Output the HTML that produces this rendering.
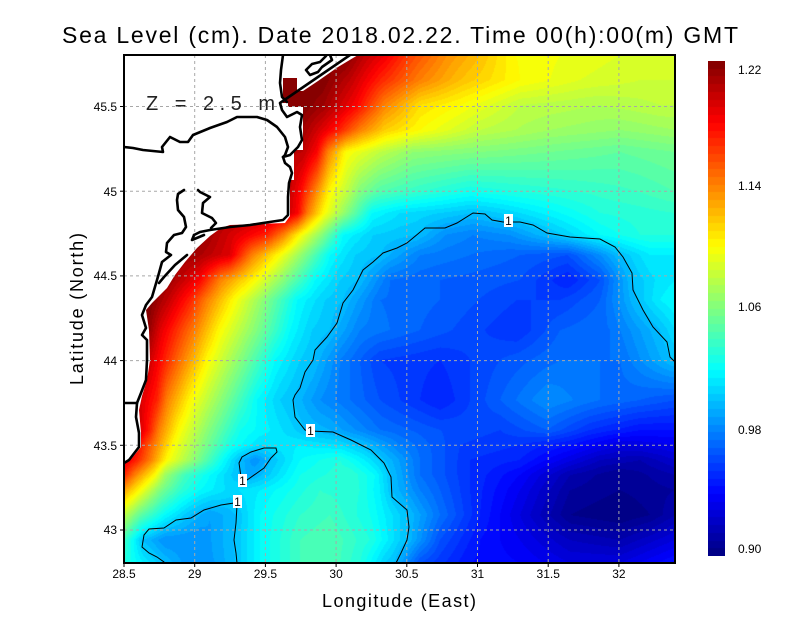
<!DOCTYPE html>
<html><head><meta charset="utf-8">
<style>
html,body{margin:0;padding:0;background:#fff;}
body{width:800px;height:618px;position:relative;overflow:hidden;}
#c{position:absolute;left:124px;top:55px;}
#cb{position:absolute;left:708px;top:61px;}
svg{position:absolute;left:0;top:0;}
text{font-family:"Liberation Sans",sans-serif;}
</style></head>
<body>
<canvas id="c" width="551" height="508"></canvas>
<canvas id="cb" width="17" height="495"></canvas>
<svg width="800" height="618" viewBox="0 0 800 618" xmlns="http://www.w3.org/2000/svg">
<defs><clipPath id="pc"><rect x="124" y="55" width="551" height="508"/></clipPath></defs>
<g clip-path="url(#pc)">
<path fill="#fff" d="M124,55 L358,55 L338,67 L318,81 L303,91 L297,91 L297,78 L283,78 L283,103 L288,103 L288,107 L303,107 L303,150 L294,150 L294,180 L290,180 L290,216 L285,223 L230,225 L221,228 L210,236 L197,248 L185,262 L175,275 L167,288 L152,303 L146,310 L149,330 L150,360 L147,380 L142,396 L139,410 L141,433 L141,447 L132,458 L124,464 Z"/>
<g stroke="#a8a8a8" stroke-width="1" stroke-dasharray="3,3" fill="none">
<line x1="194.7" y1="55" x2="194.7" y2="563"/>
<line x1="265.4" y1="55" x2="265.4" y2="563"/>
<line x1="336.1" y1="55" x2="336.1" y2="563"/>
<line x1="406.8" y1="55" x2="406.8" y2="563"/>
<line x1="477.5" y1="55" x2="477.5" y2="563"/>
<line x1="548.2" y1="55" x2="548.2" y2="563"/>
<line x1="618.9" y1="55" x2="618.9" y2="563"/>
<line x1="124" y1="106.5" x2="675" y2="106.5"/>
<line x1="124" y1="191.2" x2="675" y2="191.2"/>
<line x1="124" y1="275.9" x2="675" y2="275.9"/>
<line x1="124" y1="360.6" x2="675" y2="360.6"/>
<line x1="124" y1="445.3" x2="675" y2="445.3"/>
<line x1="124" y1="530" x2="675" y2="530"/>
</g>
<g stroke="#000" stroke-width="1" fill="none">
<path d="M675,362 L670,357 L667,342 L653,327 L643,310 L633,290 L632,273 L623,257 L615,247 L600,239 L570,237 L547,233 L533,225 L520,222 L503,222 L492,220 L485,214 L473,213 L457,223 L445,228 L425,228 L407,243 L397,248 L383,253 L373,262 L363,270 L353,290 L343,303 L337,323 L327,337 L315,350 L313,360 L305,372 L300,388 L295,395 L293,400 L295,417 L305,430 L310,431 L333,432 L351,440 L371,450 L384,463 L391,477 L392,497 L407,510 L409,527 L407,540 L401,553 L396,563"/>
<path d="M241,477 L239,463 L242,457 L251,452 L264,448 L276,448 L277,452 L271,458 L264,468 L257,473 L247,480 Z"/>
<path d="M237,502 L234,503 L221,505 L204,510 L191,518 L176,520 L164,528 L149,529 L144,535 L142,547 L149,553 L157,557 L164,562 L166,565"/>
<path d="M237,505 L236,523 L234,540 L236,553 L237,563"/>
</g>
<g>
<rect x="504" y="214" width="9" height="13" fill="#fff"/>
<rect x="306" y="424" width="9" height="13" fill="#fff"/>
<rect x="238" y="474" width="9" height="13" fill="#fff"/>
<rect x="233" y="495" width="9" height="13" fill="#fff"/>
<g font-size="12" text-anchor="middle" fill="#000">
<text x="508.5" y="225">1</text>
<text x="310.5" y="435">1</text>
<text x="242.5" y="485">1</text>
<text x="237.5" y="506">1</text>
</g>
</g>
<g stroke="#000" stroke-width="2.6" fill="none" stroke-linejoin="round" stroke-linecap="round">
<path d="M350,55 L280,103 L282,110 L287,117 L297,112 L302,115 L300,127 L302,140 L298,147 L290,155 L283,157 L285,163 L290,167 L292,173 L289,183 L288,197 L288,215 L283,220 L263,223 L250,225 L230,227 L210,230 L200,232 L194,235"/>
<path d="M124,147 L133,148 L143,150 L163,152 L162,147 L170,137 L180,142 L188,142 L193,135 L210,128 L227,122 L237,117 L247,117 L257,117 L267,120 L277,127 L285,137 L288,147 L285,155 L283,157"/>
<path d="M283,55 L281,70 L280,83 L282,97 L287,102"/>
<path d="M330,55 L332,60 L322,67 L318,72 L310,75 L306,70 L312,64 L320,62 L326,56"/>
<path d="M198,190 L200,192 L210,197 L203,203 L202,213 L212,218 L216,223 L211,228"/>
<path d="M184,190 L178,194 L177,200 L178,210 L184,217 L186,227 L182,233 L174,235 L167,243 L166,252 L171,255 L162,262 L159,273 L157,280 L152,297 L146,305 L142,315 L146,328 L142,335 L147,340 L147,360 L146,380 L141,393 L137,403 L136,417 L139,433 L139,447 L129,460 L124,463"/>
<path d="M124,403 L137,403"/>
<path d="M194,235 L192,240 L204,235"/>
<path d="M187,255 L175,265 L164,277 L159,283"/>
</g>
</g>
<rect x="124" y="55" width="551" height="508" fill="none" stroke="#000" stroke-width="2"/>
<g stroke="#000" stroke-width="1">
<line x1="124" y1="563" x2="124" y2="567"/>
<line x1="194.7" y1="563" x2="194.7" y2="567"/>
<line x1="265.4" y1="563" x2="265.4" y2="567"/>
<line x1="336.1" y1="563" x2="336.1" y2="567"/>
<line x1="406.8" y1="563" x2="406.8" y2="567"/>
<line x1="477.5" y1="563" x2="477.5" y2="567"/>
<line x1="548.2" y1="563" x2="548.2" y2="567"/>
<line x1="618.9" y1="563" x2="618.9" y2="567"/>
<line x1="120" y1="106.5" x2="124" y2="106.5"/>
<line x1="120" y1="191.2" x2="124" y2="191.2"/>
<line x1="120" y1="275.9" x2="124" y2="275.9"/>
<line x1="120" y1="360.6" x2="124" y2="360.6"/>
<line x1="120" y1="445.3" x2="124" y2="445.3"/>
<line x1="120" y1="530" x2="124" y2="530"/>
</g>
<g font-size="12" fill="#000" text-anchor="middle">
<text x="124" y="578">28.5</text>
<text x="194.7" y="578">29</text>
<text x="265.4" y="578">29.5</text>
<text x="336.1" y="578">30</text>
<text x="406.8" y="578">30.5</text>
<text x="477.5" y="578">31</text>
<text x="548.2" y="578">31.5</text>
<text x="618.9" y="578">32</text>
</g>
<g font-size="12" fill="#000" text-anchor="end">
<text x="117" y="111">45.5</text>
<text x="117" y="196">45</text>
<text x="117" y="280">44.5</text>
<text x="117" y="365">44</text>
<text x="117" y="450">43.5</text>
<text x="117" y="534">43</text>
</g>
<g font-size="12" fill="#000">
<text x="738" y="74">1.22</text>
<text x="738" y="190">1.14</text>
<text x="738" y="311">1.06</text>
<text x="738" y="434">0.98</text>
<text x="738" y="553">0.90</text>
</g>
<text x="62" y="43" font-size="23" textLength="676" lengthAdjust="spacing" fill="#000">Sea Level (cm). Date 2018.02.22. Time 00(h):00(m) GMT</text>
<text x="399" y="607" font-size="18" text-anchor="middle" textLength="154" lengthAdjust="spacing" fill="#000">Longitude (East)</text>
<text transform="translate(83,309) rotate(-90)" font-size="18" text-anchor="middle" textLength="152" lengthAdjust="spacing" fill="#000">Latitude (North)</text>
<text x="146" y="110" font-size="20" textLength="129" lengthAdjust="spacing" fill="#222">Z = 2.5 m</text>
</svg>
<script>
var rows=[
[55,[[124,1.22],[345,1.22],[365,1.20],[385,1.185],[410,1.16],[447,1.135],[480,1.12],[515,1.10],[560,1.095],[620,1.09],[675,1.09]]],
[80,[[124,1.22],[322,1.22],[350,1.20],[380,1.17],[420,1.14],[460,1.12],[520,1.10],[580,1.09],[640,1.085],[675,1.085]]],
[105,[[124,1.22],[303,1.22],[324,1.21],[357,1.18],[384,1.14],[420,1.11],[460,1.10],[520,1.08],[600,1.075],[660,1.08],[675,1.08]]],
[130,[[124,1.22],[303,1.21],[322,1.19],[340,1.17],[360,1.14],[385,1.115],[420,1.10],[480,1.08],[550,1.07],[620,1.065],[675,1.07]]],
[152,[[124,1.22],[303,1.20],[317,1.18],[328,1.14],[346,1.10],[380,1.08],[413,1.065],[480,1.06],[550,1.055],[620,1.05],[675,1.055]]],
[192,[[124,1.22],[288,1.20],[300,1.18],[315,1.14],[330,1.10],[347,1.08],[360,1.06],[380,1.045],[420,1.035],[470,1.025],[520,1.03],[580,1.035],[640,1.04],[675,1.045]]],
[213,[[124,1.22],[286,1.20],[298,1.18],[308,1.14],[324,1.10],[348,1.06],[372,1.02],[400,1.01],[440,1.005],[473,1.0],[500,1.005],[540,1.015],[600,1.03],[675,1.035]]],
[235,[[124,1.22],[195,1.22],[220,1.20],[267,1.17],[283,1.14],[300,1.10],[323,1.06],[343,1.02],[373,1.005],[417,1.0],[445,0.985],[473,0.98],[510,0.985],[550,1.0],[600,1.02],[640,1.03],[675,1.03]]],
[255,[[124,1.22],[192,1.21],[230,1.19],[252,1.14],[279,1.10],[305,1.06],[330,1.02],[355,1.005],[380,1.0],[420,0.98],[470,0.975],[520,0.97],[568,0.965],[600,0.985],[620,1.0],[650,1.015],[675,1.015]]],
[280,[[124,1.22],[170,1.21],[200,1.18],[220,1.14],[255,1.10],[285,1.06],[315,1.02],[340,1.005],[358,1.0],[390,0.975],[440,0.97],[520,0.965],[568,0.95],[600,0.965],[632,1.0],[655,1.01],[675,1.015]]],
[300,[[124,1.22],[150,1.22],[167,1.20],[190,1.17],[207,1.14],[234,1.10],[266,1.06],[297,1.02],[325,1.005],[343,1.0],[380,0.975],[440,0.97],[517,0.96],[560,0.96],[600,0.97],[636,1.0],[660,1.015],[675,1.02]]],
[330,[[124,1.22],[146,1.22],[160,1.19],[195,1.14],[220,1.10],[257,1.06],[290,1.02],[312,1.005],[330,1.0],[360,0.98],[420,0.97],[517,0.955],[560,0.97],[610,0.975],[660,1.0],[675,1.01]]],
[360,[[124,1.22],[147,1.20],[165,1.17],[183,1.14],[208,1.10],[242,1.06],[275,1.02],[300,1.005],[313,1.0],[340,0.98],[380,0.96],[440,0.955],[500,0.965],[560,0.975],[620,0.975],[672,1.0],[675,1.0]]],
[400,[[124,1.22],[142,1.19],[157,1.17],[167,1.14],[191,1.10],[224,1.06],[257,1.02],[280,1.005],[293,1.0],[320,0.985],[380,0.965],[440,0.95],[500,0.97],[547,0.985],[600,0.975],[640,0.97],[675,0.965]]],
[430,[[124,1.22],[137,1.20],[150,1.17],[159,1.14],[179,1.10],[210,1.06],[240,1.025],[270,1.015],[295,1.005],[305,1.0],[330,0.995],[380,0.975],[440,0.965],[500,0.96],[547,0.97],[590,0.955],[640,0.945],[675,0.945]]],
[445,[[124,1.20],[137,1.18],[155,1.14],[173,1.10],[204,1.06],[232,1.025],[260,1.01],[300,1.015],[340,1.01],[364,1.0],[400,0.98],[460,0.96],[520,0.955],[570,0.945],[620,0.93],[675,0.935]]],
[460,[[124,1.19],[137,1.17],[151,1.14],[167,1.10],[197,1.06],[224,1.02],[239,1.0],[255,0.985],[271,1.0],[300,1.02],[340,1.03],[365,1.015],[385,1.0],[420,0.975],[470,0.955],[520,0.95],[560,0.935],[600,0.92],[640,0.915],[675,0.925]]],
[475,[[124,1.17],[135,1.14],[155,1.10],[165,1.07],[185,1.04],[210,1.02],[238,1.0],[250,0.993],[262,1.0],[300,1.025],[350,1.035],[375,1.02],[391,1.0],[420,0.975],[470,0.955],[520,0.94],[570,0.915],[620,0.905],[675,0.915]]],
[490,[[124,1.13],[140,1.10],[160,1.06],[180,1.035],[200,1.02],[230,1.008],[260,1.015],[320,1.035],[360,1.03],[380,1.015],[392,1.0],[420,0.98],[470,0.955],[520,0.935],[570,0.91],[620,0.905],[675,0.91]]],
[515,[[124,1.08],[140,1.05],[165,1.02],[190,1.0],[210,0.99],[236,1.0],[260,1.02],[300,1.035],[330,1.04],[370,1.025],[400,1.005],[408,1.0],[440,0.975],[480,0.95],[520,0.93],[570,0.905],[620,0.9],[650,0.905],[675,0.915]]],
[540,[[124,1.04],[143,1.0],[165,0.985],[200,0.985],[234,1.0],[260,1.02],[300,1.04],[330,1.045],[370,1.03],[400,1.005],[407,1.0],[440,0.965],[480,0.945],[520,0.935],[570,0.92],[620,0.915],[675,0.93]]],
[563,[[124,1.03],[150,1.01],[165,1.0],[190,0.985],[215,0.99],[235,1.0],[260,1.02],[300,1.04],[330,1.045],[360,1.03],[385,1.005],[394,1.0],[420,0.965],[470,0.945],[520,0.94],[570,0.93],[620,0.93],[675,0.945]]]
];
function ev(k,x){if(x<=k[0][0])return k[0][1];for(var i=1;i<k.length;i++){if(x<=k[i][0]){var a=k[i-1],b=k[i];return a[1]+(b[1]-a[1])*(x-a[0])/(b[0]-a[0]);}}return k[k.length-1][1];}
function cl(u){return Math.round(255*Math.max(0,Math.min(1,1.5-Math.abs(u))));}
function jet(v){var t=(v-0.9)/0.32;t=Math.max(0,Math.min(0.9999,t));t=(Math.floor(t*64)+0.5)/64;return [cl(4*t-3),cl(4*t-2),cl(4*t-1)];}
(function(){
var cv=document.getElementById('c'),ctx=cv.getContext('2d');var W=551,H=508;var img=ctx.createImageData(W,H);var d=img.data;
for(var j=0;j<H;j++){var y=55+j+0.5;var r=0;while(r<rows.length-2&&rows[r+1][0]<y)r++;var y0=rows[r][0],y1=rows[r+1][0];var t=(y-y0)/(y1-y0);t=Math.max(0,Math.min(1,t));
for(var i=0;i<W;i++){var x=124+i+0.5;var v=ev(rows[r][1],x)*(1-t)+ev(rows[r+1][1],x)*t;var c=jet(v);var p=(j*W+i)*4;d[p]=c[0];d[p+1]=c[1];d[p+2]=c[2];d[p+3]=255;}}
ctx.putImageData(img,0,0);
var cb=document.getElementById('cb'),cx=cb.getContext('2d');var im2=cx.createImageData(17,495);var e=im2.data;
for(var j2=0;j2<495;j2++){var v2=1.22-(j2+0.5)/495*0.32;var c2=jet(v2);for(var i2=0;i2<17;i2++){var q=(j2*17+i2)*4;e[q]=c2[0];e[q+1]=c2[1];e[q+2]=c2[2];e[q+3]=255;}}
cx.putImageData(im2,0,0);
})();
</script>
</body></html>
